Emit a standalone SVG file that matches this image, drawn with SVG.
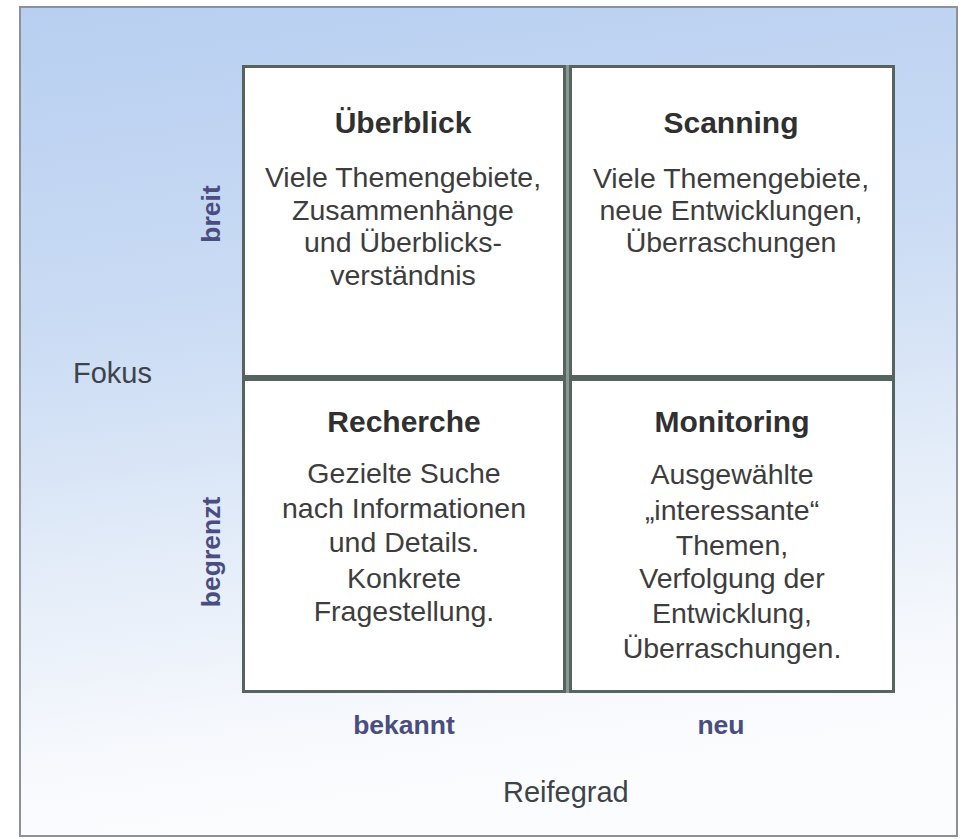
<svg xmlns="http://www.w3.org/2000/svg" width="961" height="839" viewBox="0 0 961 839">
  <defs>
    <linearGradient id="bg" x1="0" y1="0" x2="0.15" y2="1">
      <stop offset="0" stop-color="#b8cff1"/>
      <stop offset="0.4" stop-color="#cbdcf4"/>
      <stop offset="0.7" stop-color="#e6eef9"/>
      <stop offset="0.9" stop-color="#f7f9fd"/>
      <stop offset="1" stop-color="#fbfcfe"/>
    </linearGradient>
    <style>
      text { font-family: "Liberation Sans", Arial, sans-serif; }
      .box { fill: #ffffff; stroke: #56645f; stroke-width: 3; }
      .title { font-size: 30px; font-weight: bold; fill: #303030; text-anchor: middle; }
      .body { font-size: 28.5px; fill: #3d3d3d; text-anchor: middle; }
      .axis { font-size: 26.5px; font-weight: bold; fill: #4a4d80; text-anchor: middle; }
      .dim { font-size: 29px; fill: #3e434b; }
    </style>
  </defs>
  <rect x="0" y="0" width="961" height="839" fill="#ffffff"/>
  <rect x="20" y="7" width="937" height="829" fill="url(#bg)" stroke="#8c9196" stroke-width="2"/>

  <g id="grid-frame">
    <rect x="242" y="65" width="653" height="628" fill="#8a9795"/>
  </g>

  <g id="ueberblick">
    <rect class="box" x="243.5" y="66.5" width="321" height="310"/>
    <text class="title" x="403" y="133">Überblick</text>
    <text class="body" x="403" y="187">Viele Themengebiete,</text>
    <text class="body" x="403" y="220">Zusammenhänge</text>
    <text class="body" x="403" y="252">und Überblicks-</text>
    <text class="body" x="403" y="285">verständnis</text>
  </g>

  <g id="scanning">
    <rect class="box" x="570.5" y="66.5" width="323" height="310"/>
    <text class="title" x="731" y="133">Scanning</text>
    <text class="body" x="731" y="188">Viele Themengebiete,</text>
    <text class="body" x="731" y="220">neue Entwicklungen,</text>
    <text class="body" x="731" y="252">Überraschungen</text>
  </g>

  <g id="recherche">
    <rect class="box" x="243.5" y="379.5" width="321" height="312"/>
    <text class="title" x="404" y="432">Recherche</text>
    <text class="body" x="404" y="483">Gezielte Suche</text>
    <text class="body" x="404" y="518">nach Informationen</text>
    <text class="body" x="404" y="552">und Details.</text>
    <text class="body" x="404" y="588">Konkrete</text>
    <text class="body" x="404" y="621">Fragestellung.</text>
  </g>

  <g id="monitoring">
    <rect class="box" x="570.5" y="379.5" width="323" height="312"/>
    <text class="title" x="732" y="432">Monitoring</text>
    <text class="body" x="732" y="484">Ausgewählte</text>
    <text class="body" x="732" y="520">„interessante“</text>
    <text class="body" x="732" y="555">Themen,</text>
    <text class="body" x="732" y="588">Verfolgung der</text>
    <text class="body" x="732" y="623">Entwicklung,</text>
    <text class="body" x="732" y="658">Überraschungen.</text>
  </g>

  <g id="axis-labels">
    <text class="axis" transform="translate(220,214) rotate(-90)">breit</text>
    <text class="axis" transform="translate(220,552) rotate(-90)">begrenzt</text>
    <text class="axis" x="404" y="734">bekannt</text>
    <text class="axis" x="721" y="734">neu</text>
    <text class="dim" x="73" y="383">Fokus</text>
    <text class="dim" x="503" y="802" fill="#3d3d3d">Reifegrad</text>
  </g>
</svg>
